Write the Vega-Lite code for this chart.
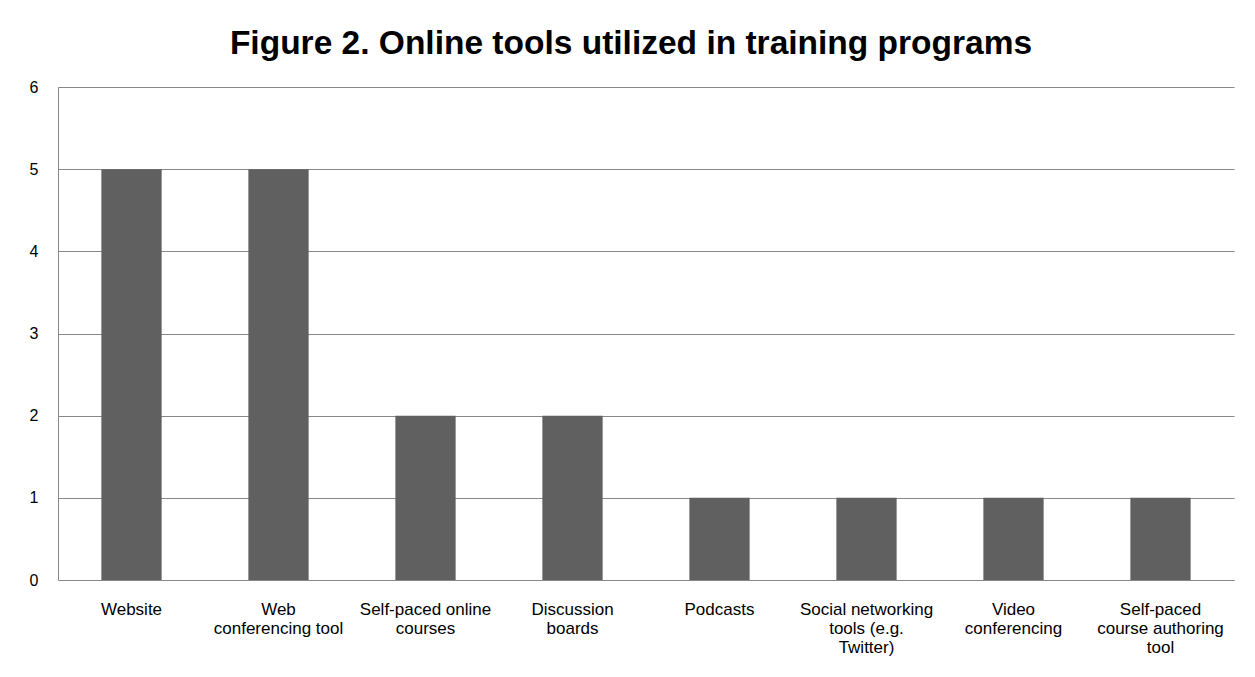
{
  "$schema": "https://vega.github.io/schema/vega-lite/v6.json",
  "width": 1176,
  "height": 493,
  "autosize": {"type": "none"},
  "padding": {"left": 58, "top": 87, "right": 21, "bottom": 97},
  "background": "white",
  "title": {
    "text": "Figure 2. Online tools utilized in training programs",
    "font": "Liberation Sans",
    "fontSize": 33.5,
    "fontWeight": "bold",
    "color": "black",
    "anchor": "middle",
    "frame": "group",
    "dx": -15,
    "dy": 33,
    "baseline": "alphabetic",
    "offset": 25
  },
  "data": {
    "values": [
      {"tool": "Website", "count": 5},
      {"tool": "Web conferencing tool", "count": 5},
      {"tool": "Self-paced online courses", "count": 2},
      {"tool": "Discussion boards", "count": 2},
      {"tool": "Podcasts", "count": 1},
      {"tool": "Social networking tools (e.g. Twitter)", "count": 1},
      {"tool": "Video conferencing", "count": 1},
      {"tool": "Self-paced course authoring tool", "count": 1}
    ]
  },
  "mark": {"type": "bar", "color": "#606060"},
  "encoding": {
    "x": {
      "field": "tool",
      "type": "nominal",
      "sort": null,
      "scale": {"paddingInner": 0.59, "paddingOuter": 0.295},
      "axis": {
        "title": null,
        "labelAngle": 0,
        "ticks": false,
        "domainColor": "#888888",
        "labelFont": "Liberation Sans",
        "labelFontSize": 17,
        "labelColor": "black",
        "labelPadding": 21,
        "labelLineHeight": 19,
        "labelLimit": 0,
        "labelExpr": "{'Web conferencing tool': ['Web', 'conferencing tool'], 'Self-paced online courses': ['Self-paced online', 'courses'], 'Discussion boards': ['Discussion', 'boards'], 'Social networking tools (e.g. Twitter)': ['Social networking', 'tools (e.g.', 'Twitter)'], 'Video conferencing': ['Video', 'conferencing'], 'Self-paced course authoring tool': ['Self-paced', 'course authoring', 'tool']}[datum.label] || datum.label"
      }
    },
    "y": {
      "field": "count",
      "type": "quantitative",
      "scale": {"domain": [0, 6]},
      "axis": {
        "title": null,
        "values": [0, 1, 2, 3, 4, 5, 6],
        "ticks": false,
        "domainColor": "#888888",
        "gridColor": "#888888",
        "labelFont": "Liberation Sans",
        "labelFontSize": 16,
        "labelColor": "black",
        "labelPadding": 20
      }
    }
  },
  "config": {
    "view": {"stroke": null}
  }
}
